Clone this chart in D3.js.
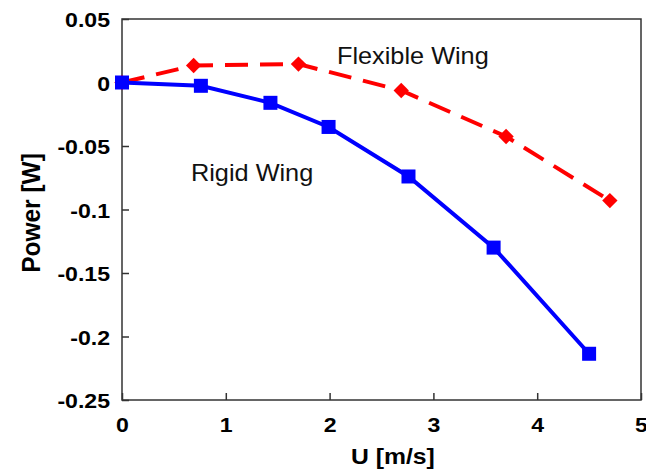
<!DOCTYPE html>
<html>
<head>
<meta charset="utf-8">
<script src="https://cdn.jsdelivr.net/npm/d3@7"></script>
<style>
  html, body { margin: 0; padding: 0; background: #fff; }
  svg { display: block; }
  text { font-family: "Liberation Sans", Arial, sans-serif; }
</style>
</head>
<body>
<svg id="chart" width="646" height="470"></svg>
<script>
// ---- data ----
const rigidU = [0, 0.76, 1.43, 1.99, 2.76, 3.58, 4.50];
const rigidP = [0, -0.0026, -0.016, -0.035, -0.074, -0.130, -0.2136];
const flexU = [0, 0.69, 1.70, 2.69, 3.70, 4.70];
const flexP = [0, 0.0134, 0.0145, -0.0063, -0.0425, -0.093];
const xTicks = [0, 1, 2, 3, 4, 5];
const yTicks = [0.05, 0, -0.05, -0.1, -0.15, -0.2, -0.25];
const yTickLabels = ["0.05", "0", "-0.05", "-0.1", "-0.15", "-0.2", "-0.25"];
const xLabel = "U [m/s]";
const yLabel = "Power [W]";
const rigidLabel = "Rigid Wing";
const flexLabel = "Flexible Wing";

// ---- layout ----
const margin = {left: 122, top: 19, right: 5, bottom: 70};
const W = 646, H = 470;
const iw = W - margin.left - margin.right;
const ih = H - margin.top - margin.bottom;
const SX = 1.1; // horizontal stretch of text

const svg = d3.select("#chart");
const g = svg.append("g").attr("transform", `translate(${margin.left},${margin.top})`);

const x = d3.scaleLinear().domain([0, 5]).range([0, iw]);
const y = d3.scaleLinear().domain([-0.25, 0.05]).range([ih, 0]);

// frame
g.append("rect").attr("x", 0).attr("y", 0).attr("width", iw).attr("height", ih)
  .attr("fill", "none").attr("stroke", "#333").attr("stroke-width", 1.5);

// x axis
const xa = g.append("g").attr("transform", `translate(0,${ih})`)
  .call(d3.axisBottom(x).tickValues(xTicks).tickFormat(d3.format("d")).tickSizeInner(-7).tickSizeOuter(0).tickPadding(17));
xa.select(".domain").remove();
xa.selectAll(".tick line").attr("stroke", "#333").attr("stroke-width", 1.5);
xa.selectAll(".tick text").attr("font-size", 21).attr("font-weight", "bold").attr("fill", "#000")
  .attr("font-family", "Liberation Sans, Arial, sans-serif")
  .attr("transform", `scale(${SX},1)`);

// y axis
const ya = g.append("g")
  .call(d3.axisLeft(y).tickValues(yTicks).tickFormat((d, i) => yTickLabels[i]).tickSizeInner(-7).tickSizeOuter(0).tickPadding(12));
ya.select(".domain").remove();
ya.selectAll(".tick line").attr("stroke", "#333").attr("stroke-width", 1.5);
ya.selectAll(".tick text").attr("font-size", 21).attr("font-weight", "bold").attr("fill", "#000")
  .attr("font-family", "Liberation Sans, Arial, sans-serif")
  .attr("x", -12 / SX).attr("dy", "0.36em")
  .attr("transform", `scale(${SX},1)`);

// axis titles
svg.append("text")
  .attr("transform", `translate(${margin.left + x(2.6) + 1},464) scale(${SX},1)`)
  .attr("text-anchor", "middle").attr("font-size", 22.5).attr("font-weight", "bold").text(xLabel);
svg.append("text")
  .attr("transform", `translate(40,213) rotate(-90) scale(1,1.05)`)
  .attr("text-anchor", "middle").attr("font-size", 24.5).attr("font-weight", "bold").text(yLabel);

// flexible wing (red dashed, diamonds)
const flex = flexU.map((u, i) => [u, flexP[i]]);
const rigid = rigidU.map((u, i) => [u, rigidP[i]]);
const line = d3.line().x(d => x(d[0])).y(d => y(d[1]));

g.append("path").datum(flex).attr("d", line).attr("fill", "none")
  .attr("stroke", "#ff0000").attr("stroke-width", 4).attr("stroke-dasharray", "23,12");
g.selectAll(".dia").data(flex).enter().append("path")
  .attr("d", d3.symbol(d3.symbolDiamond2, 150)())
  .attr("transform", d => `translate(${x(d[0])},${y(d[1])})`)
  .attr("fill", "#ff0000");

// rigid wing (blue solid, squares)
g.append("path").datum(rigid).attr("d", line).attr("fill", "none")
  .attr("stroke", "#0000ff").attr("stroke-width", 4);
g.selectAll(".sq").data(rigid).enter().append("rect")
  .attr("x", d => x(d[0]) - 7).attr("y", d => y(d[1]) - 7)
  .attr("width", 14).attr("height", 14).attr("fill", "#0000ff");

// in-plot labels
svg.append("text")
  .attr("transform", `translate(337,64) scale(${SX},1)`)
  .attr("font-size", 23).attr("fill", "#111").text(flexLabel);
svg.append("text")
  .attr("transform", `translate(191,181) scale(${SX},1)`)
  .attr("font-size", 23).attr("fill", "#111").text(rigidLabel);
</script>
</body>
</html>
